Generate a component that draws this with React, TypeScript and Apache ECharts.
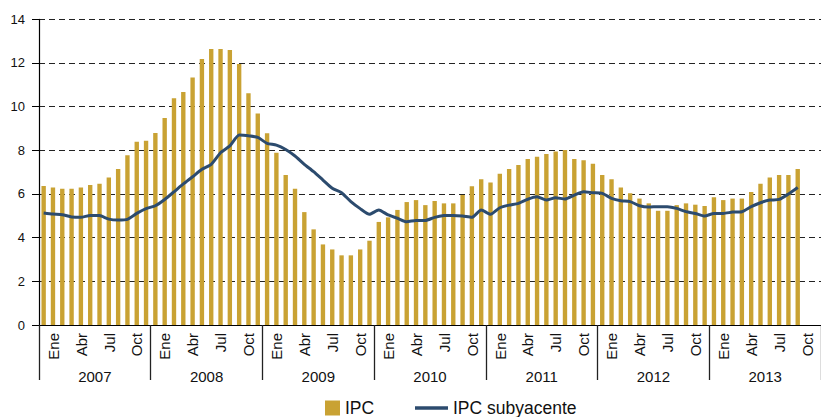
import React, { useEffect, useRef } from "react";
import * as echarts from "echarts";

const monthNames = ["Ene", "Feb", "Mar", "Abr", "May", "Jun", "Jul", "Ago", "Sep", "Oct", "Nov", "Dic"];
const years = ["2007", "2008", "2009", "2010", "2011", "2012", "2013"];
const shownMonths = ["Ene", "Abr", "Jul", "Oct"];

const ipc = [
  6.36, 6.3, 6.24, 6.24, 6.3, 6.41, 6.47, 6.75, 7.14, 7.77, 8.39, 8.44,
  8.79, 9.48, 10.38, 10.67, 11.34, 12.18, 12.64, 12.64, 12.59, 11.95, 10.61, 9.69,
  8.78, 7.89, 6.87, 6.24, 5.17, 4.38, 3.69, 3.46, 3.19, 3.19, 3.46, 3.86,
  4.72, 4.93, 5.27, 5.63, 5.72, 5.49, 5.68, 5.57, 5.57, 5.95, 6.35, 6.68,
  6.53, 6.93, 7.14, 7.33, 7.6, 7.71, 7.83, 7.94, 8.01, 7.6, 7.54, 7.39,
  6.87, 6.68, 6.3, 6.03, 5.79, 5.57, 5.23, 5.23, 5.49, 5.57, 5.51, 5.45,
  5.85, 5.72, 5.79, 5.79, 6.09, 6.47, 6.75, 6.87, 6.87, 7.14,
];

const ipcSubyacente = [
  5.13, 5.08, 5.05, 4.95, 4.93, 5.02, 5.01, 4.85, 4.81, 4.84, 5.11, 5.33,
  5.46, 5.75, 6.1, 6.46, 6.79, 7.13, 7.36, 7.89, 8.2, 8.7, 8.67, 8.59,
  8.32, 8.24, 8.04, 7.74, 7.36, 7.02, 6.64, 6.26, 6.06, 5.65, 5.33, 5.07,
  5.27, 5.04, 4.89, 4.73, 4.79, 4.79, 4.93, 5.01, 5.02, 4.99, 4.93, 5.27,
  5.07, 5.37, 5.49, 5.57, 5.76, 5.87, 5.72, 5.83, 5.77, 5.95, 6.1, 6.06,
  6.03, 5.8, 5.69, 5.65, 5.46, 5.4, 5.42, 5.42, 5.34, 5.19, 5.11, 4.99,
  5.11, 5.11, 5.17, 5.19, 5.42, 5.6, 5.72, 5.75, 6.0, 6.3,
];

const yTicks = { min: 0, max: 14, interval: 2 };

const monthCategories = years.flatMap((y) => monthNames.map((m) => `${m} ${y}`));

const FONT = 'Arial, "Liberation Sans", sans-serif';
const BAR_COLOR = "#C9A233";
const LINE_COLOR = "#2C4B6E";

export default function App() {
  const ref = useRef<HTMLDivElement>(null);

  useEffect(() => {
    if (!ref.current) return;
    const chart = echarts.init(ref.current, undefined, { renderer: "svg" });
    chart.setOption({
      animation: false,
      backgroundColor: "#ffffff",
      textStyle: { fontFamily: FONT },
      grid: { left: 39, right: -10, top: 19.3, bottom: 92, containLabel: false },
      legend: [
        {
          data: [{ name: "IPC", icon: "rect" }],
          left: 320,
          top: 394,
          itemWidth: 15,
          itemHeight: 15,
          textStyle: { fontSize: 17.5, color: "#111", fontFamily: FONT },
        },
        {
          data: [{ name: "IPC subyacente", icon: "rect", itemStyle: { color: LINE_COLOR } }],
          left: 410,
          top: 394,
          itemWidth: 33,
          itemHeight: 3.5,
          textStyle: { fontSize: 17.5, color: "#111", fontFamily: FONT },
        },
      ],
      xAxis: [
        {
          type: "category",
          data: monthCategories,
          boundaryGap: true,
          axisLine: { show: true, lineStyle: { color: "#000", width: 1.2 } },
          axisTick: { show: false },
          axisLabel: {
            interval: 0,
            showMinLabel: true,
            showMaxLabel: true,
            hideOverlap: false,
            rotate: 90,
            margin: 8,
            fontSize: 15,
            lineHeight: 19,
            color: "#111",
            fontFamily: FONT,
            formatter: (v: string) => {
              const m = v.split(" ")[0];
              return shownMonths.includes(m) ? "\n" + m : "";
            },
          },
          splitLine: { show: false },
        },
        {
          type: "category",
          data: years,
          position: "bottom",
          boundaryGap: true,
          axisLine: { show: false },
          axisTick: {
            show: true,
            interval: 0,
            length: 55,
            lineStyle: { color: "#222", width: 1.3 },
          },
          axisLabel: {
            interval: 0,
            margin: 44,
            fontSize: 15,
            color: "#111",
            fontFamily: FONT,
          },
          splitLine: { show: false },
        },
      ],
      yAxis: {
        type: "value",
        min: yTicks.min,
        max: yTicks.max,
        interval: yTicks.interval,
        axisLine: { show: true, lineStyle: { color: "#000", width: 1.2 } },
        axisTick: { show: true, length: 7, lineStyle: { color: "#000" } },
        axisLabel: { fontSize: 13, color: "#111", margin: 14, fontFamily: FONT },
        splitLine: {
          show: true,
          lineStyle: { type: [6, 4], color: "#222", width: 1 },
        },
      },
      series: [
        {
          name: "IPC",
          type: "bar",
          xAxisIndex: 0,
          data: ipc,
          barWidth: "47%",
          itemStyle: { color: BAR_COLOR },
        },
        {
          name: "IPC subyacente",
          type: "line",
          xAxisIndex: 0,
          data: ipcSubyacente,
          showSymbol: false,
          symbol: "none",
          smooth: 0.2,
          lineStyle: { color: LINE_COLOR, width: 3 },
          itemStyle: { color: LINE_COLOR },
        },
      ],
    });
    return () => chart.dispose();
  }, []);

  return (
    <div
      ref={ref}
      style={{ position: "fixed", left: 0, top: 0, width: 821, height: 417, background: "#fff" }}
    />
  );
}
